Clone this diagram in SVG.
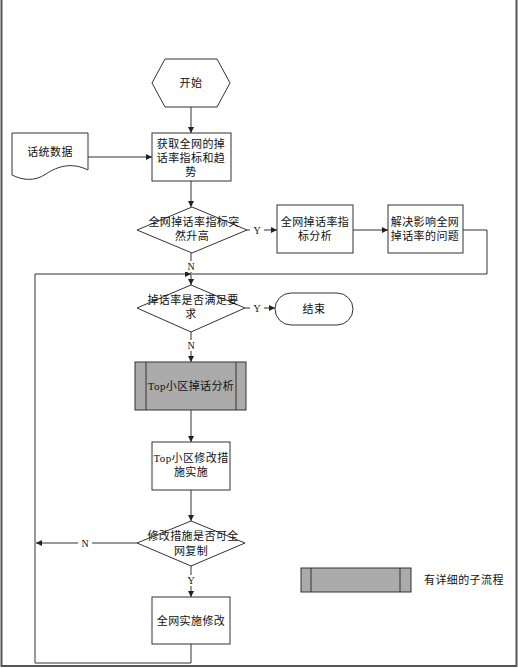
<svg xmlns="http://www.w3.org/2000/svg" width="518" height="668" viewBox="0 0 518 668">
<style>
.s{fill:#fff;stroke:#333;stroke-width:1}
.g{fill:#ababab;stroke:#333;stroke-width:1}
.t{font-family:"Liberation Serif","Noto Sans CJK SC",serif;font-size:11px;fill:#111;text-anchor:middle;letter-spacing:0.4px}
.l{font-family:"Liberation Serif",serif;font-size:10px;fill:#111;text-anchor:middle}
.c{fill:none;stroke:#333;stroke-width:1}
</style>
<defs>
<marker id="a" viewBox="0 0 6 6" refX="6" refY="3" markerWidth="6" markerHeight="6" orient="auto" markerUnits="userSpaceOnUse">
<path d="M0,0 L6,3 L0,6 Z" fill="#222"/>
</marker>
</defs>
<rect width="518" height="668" fill="#fff"/>
<path d="M1.5,0 V666 H516.5 V0" fill="none" stroke="#555" stroke-width="2"/>

<g id="connectors">
<path class="c" d="M191,107 V133" marker-end="url(#a)"/>
<path class="c" d="M88,157 H152" marker-end="url(#a)"/>
<path class="c" d="M191,181 V207" marker-end="url(#a)"/>
<path class="c" d="M247,230 H277" marker-end="url(#a)"/>
<path class="c" d="M353,230 H388" marker-end="url(#a)"/>
<path class="c" d="M463,230 H487 V274 H192"/>
<path class="c" d="M191,253 V285" marker-end="url(#a)"/>
<path class="c" d="M245,308 H275" marker-end="url(#a)"/>
<path class="c" d="M191,332 V362" marker-end="url(#a)"/>
<path class="c" d="M191,410 V442" marker-end="url(#a)"/>
<path class="c" d="M191,490 V521" marker-end="url(#a)"/>
<path class="c" d="M137,543 H36" marker-end="url(#a)"/>
<path class="c" d="M191,566 V597" marker-end="url(#a)"/>
<path class="c" d="M191,644 V663 H35 V274 H191" marker-end="url(#a)"/>
<rect x="250" y="225" width="14" height="11" fill="#fff"/>
<text class="l" x="257" y="234">Y</text>
<rect x="184" y="261" width="14" height="11" fill="#fff"/>
<text class="l" x="191" y="270">N</text>
<rect x="250" y="303" width="14" height="11" fill="#fff"/>
<text class="l" x="257" y="312">Y</text>
<rect x="184" y="340" width="14" height="11" fill="#fff"/>
<text class="l" x="191" y="349">N</text>
<rect x="78" y="538" width="14" height="11" fill="#fff"/>
<text class="l" x="85" y="547">N</text>
<rect x="184" y="575" width="14" height="11" fill="#fff"/>
<text class="l" x="191" y="584">Y</text>
</g>

<g id="start">
<path class="s" d="M152,83 L165,59 H217 L230,83 L217,107 H165 Z"/>
<text class="t" x="191" y="87">开始</text>
</g>

<g id="data">
<path class="s" d="M12,133 H88 V170 C72,162 58,166 46,174 C34,182 22,180 12,175 Z"/>
<text class="t" x="50" y="156">话统数据</text>
</g>

<g id="get">
<rect class="s" x="152" y="133" width="79" height="48"/>
<text class="t" x="191" y="148">获取全网的掉</text>
<text class="t" x="191" y="162">话率指标和趋</text>
<text class="t" x="191" y="176">势</text>
</g>

<g id="d1">
<path class="s" d="M137,230 L192,207 L247,230 L192,253 Z"/>
<text class="t" x="194" y="226">全网掉话率指标突</text>
<text class="t" x="192" y="240">然升高</text>
</g>

<g id="analyze">
<rect class="s" x="277" y="205" width="76" height="48"/>
<text class="t" x="315" y="226">全网掉话率指</text>
<text class="t" x="315" y="240">标分析</text>
</g>

<g id="solve">
<rect class="s" x="388" y="205" width="75" height="48"/>
<text class="t" x="425" y="226">解决影响全网</text>
<text class="t" x="425" y="240">掉话率的问题</text>
</g>

<g id="d2">
<path class="s" d="M137,308 L191,285 L245,308 L191,332 Z"/>
<text class="t" x="193" y="304">掉话率是否满足要</text>
<text class="t" x="191" y="318">求</text>
</g>

<g id="end">
<rect class="s" x="275" y="293" width="78" height="32" rx="16" ry="16"/>
<text class="t" x="314" y="313">结束</text>
</g>

<g id="top-analysis">
<rect class="g" x="135" y="362" width="111" height="48"/>
<path class="c" d="M146,362 V410 M236,362 V410"/>
<text class="t" x="191" y="390">Top小区掉话分析</text>
</g>

<g id="top-fix">
<rect class="s" x="152" y="442" width="78" height="48"/>
<text class="t" x="191" y="462">Top小区修改措</text>
<text class="t" x="191" y="476">施实施</text>
</g>

<g id="d3">
<path class="s" d="M137,543 L191,521 L245,543 L191,566 Z"/>
<text class="t" x="193" y="540">修改措施是否可全</text>
<text class="t" x="191" y="555">网复制</text>
</g>

<g id="apply">
<rect class="s" x="152" y="597" width="78" height="47"/>
<text class="t" x="191" y="625">全网实施修改</text>
</g>

<g id="legend">
<rect class="g" x="301" y="568" width="110" height="24"/>
<path class="c" d="M311,568 V592 M400,568 V592"/>
<text class="t" x="424" y="584" style="text-anchor:start">有详细的子流程</text>
</g>
</svg>
